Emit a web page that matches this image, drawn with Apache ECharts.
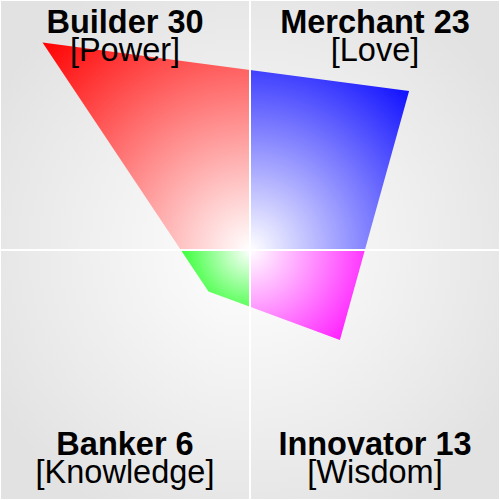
<!DOCTYPE html>
<html><head><meta charset="utf-8">
<script src="https://cdn.jsdelivr.net/npm/echarts@6/dist/echarts.min.js"></script>
<style>html,body{margin:0;padding:0;background:#fff}#c{width:500px;height:500px}</style>
</head><body><div id="c"></div>
<script>
// ---- data ----
const roles = ['Builder', 'Merchant', 'Innovator', 'Banker'];
const traits = ['Power', 'Love', 'Wisdom', 'Knowledge'];
const scores = [30, 23, 13, 6];
const colors = ['#ff0000', '#0000ff', '#ff00ff', '#00ff00'];
const axisMax = 36;

// quadrant directions (clockwise from top-left)
const signX = [-1, 1, 1, -1];
const signY = [1, 1, -1, -1];
const corners = scores.map((s, i) => [signX[i] * s, signY[i] * s]);

function axisCross(a, b) {
  if (a[0] * b[0] < 0) {
    const t = -a[0] / (b[0] - a[0]);
    return [0, a[1] + t * (b[1] - a[1])];
  }
  const t = -a[1] / (b[1] - a[1]);
  return [a[0] + t * (b[0] - a[0]), 0];
}

const chart = echarts.init(document.getElementById('c'), null, { renderer: 'svg' });
const W = 500, H = 500;

const graphics = [];
roles.forEach((r, i) => {
  const cx = signX[i] < 0 ? W * 0.25 : W * 0.75;
  const top = signY[i] > 0;
  const cy = top ? 36 : 457.5;
  graphics.push({
    type: 'text', x: cx, y: cy, z: 100,
    style: {
      text: '{b|' + r + ' ' + scores[i] + '}\n{n|[' + traits[i] + ']}',
      fill: '#000',
      textAlign: 'center', textVerticalAlign: 'middle', verticalAlign: 'middle',
      rich: {
        b: { font: 'bold 32.5px "Liberation Sans", Arial, sans-serif', lineHeight: 28, fill: '#000', align: 'center' },
        n: { font: '32.5px "Liberation Sans", Arial, sans-serif', lineHeight: 28, fill: '#000', align: 'center' }
      }
    }
  });
});

const axisCommon = {
  type: 'value', min: -axisMax, max: axisMax, z: 5,
  axisLine: { show: true, onZero: true, lineStyle: { color: '#ffffff', width: 2 } },
  axisTick: { show: false }, axisLabel: { show: false }, splitLine: { show: false }
};

chart.setOption({
  backgroundColor: '#ffffff',
  animation: false,
  grid: {
    left: 1, right: 1, top: 1, bottom: 1, show: true, borderWidth: 0,
    backgroundColor: { type: 'radial', x: 0.5, y: 0.5, r: 0.6,
      colorStops: [{ offset: 0, color: '#ffffff' }, { offset: 1, color: '#e2e2e2' }] }
  },
  xAxis: Object.assign({}, axisCommon),
  yAxis: Object.assign({}, axisCommon),
  series: [{
    type: 'custom',
    coordinateSystem: 'cartesian2d',
    encode: { x: 0, y: 1 },
    data: corners,
    clip: false,
    renderItem: function (params, api) {
      const i = params.dataIndex;
      const c = [api.value(0), api.value(1)];
      const prev = corners[(i + 3) % 4];
      const next = corners[(i + 1) % 4];
      const ptsData = [[0, 0], axisCross(prev, c), c, axisCross(c, next)];
      const pts = ptsData.map(p => api.coord(p));
      const o = pts[0];
      let maxDx = 0, maxDy = 0;
      pts.forEach(p => { maxDx = Math.max(maxDx, Math.abs(p[0] - o[0])); maxDy = Math.max(maxDy, Math.abs(p[1] - o[1])); });
      const R = Math.sqrt(maxDx * maxDx + maxDy * maxDy);
      return {
        type: 'polygon',
        shape: { points: pts },
        style: {
          fill: { type: 'radial', x: o[0], y: o[1], r: R, global: true,
            colorStops: [{ offset: 0, color: '#ffffff' }, { offset: 1, color: colors[i] }] }
        }
      };
    }
  }],
  graphic: graphics
});
</script></body></html>
